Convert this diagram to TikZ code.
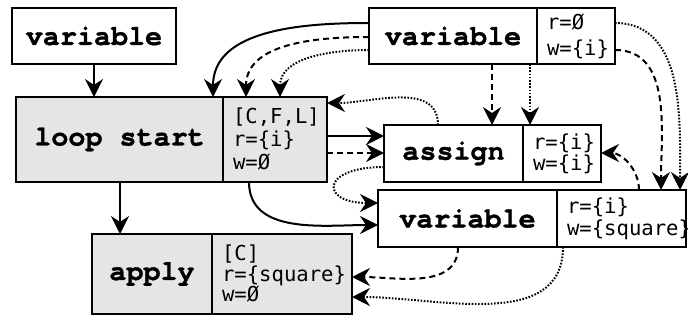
\documentclass[tikz,border=0pt]{standalone}
\usepackage{fontspec}
\usetikzlibrary{arrows.meta,calc}
\newfontfamily\lblfont{TeX Gyre Cursor}[BoldFeatures={FakeBold=1.2}]
\newfontfamily\sidefnt{DejaVu Sans Mono}
\definecolor{boxgray}{gray}{0.9}

\tikzset{
  x=0.5pt, y=-0.5pt,
  every node/.style={line width=1pt, inner sep=0pt, outer sep=0pt},
  mainbox/.style 2 args={draw, anchor=north west, minimum width=#1pt,
    minimum height=#2pt, font={\lblfont\bfseries\fontsize{14.2}{16}\selectfont}},
  sidebox/.style n args={3}{draw, anchor=north west, inner xsep=5pt,
    text width=#1, minimum height=#2pt, align=left,
    font={\sidefnt\fontsize{10.3}{#3}\selectfont}},
  conn/.style={line width=1pt, -{Stealth[length=9pt,width=9pt,inset=3pt]}},
  dsh/.style={conn, dash pattern=on 3pt off 2pt},
  dot/.style={conn, dash pattern=on 0.8pt off 0.8pt},
}

\begin{document}
\begin{tikzpicture}
\useasboundingbox (0,0) rectangle (688,320);

% statement boxes: a main label and a side box with read/write sets
\node[mainbox={82}{28}] (varL) at (12,8) {variable};

\node[mainbox={84}{28}] (varR) at (369,8) {variable};
\node[sidebox={29pt}{28}{13pt}] (varRs) at (varR.north east) {r=Ø\\w=\{i\}};

\node[mainbox={103.5}{42.5}, fill=boxgray] (ls) at (16,97) {loop start};
\node[sidebox={42pt}{42.5}{11.5pt}, fill=boxgray] (lss) at (ls.north east)
  {[C,F,L]\\r=\{i\}\\w=Ø};

\node[mainbox={69.5}{28.5}] (asg) at (384,125) {assign};
\node[sidebox={29pt}{28.5}{9.2pt}] (asgs) at (asg.north east) {r=\{i\}\\w=\{i\}};

\node[mainbox={89.5}{28.5}] (mv) at (378,190) {variable};
\node[sidebox={54.5pt}{28.5}{11pt}] (mvs) at (mv.north east) {r=\{i\}\\w=\{square\}};

\node[mainbox={60}{40}, fill=boxgray] (ap) at (92,234) {apply};
\node[sidebox={60pt}{40}{10.25pt}, fill=boxgray] (aps) at (ap.north east)
  {[C]\\r=\{square\}\\w=Ø};

% control flow (solid)
\draw[conn] (varL.south) -- (varL.south |- ls.north);
\draw[conn] ($(varR.north west)+(0,15)$) to[out=180,in=90] ($(ls.north west)+(197,0)$);
\draw[conn] ($(lss.north east)+(0,39)$) -- ($(asg.north west)+(0,11)$);
\draw[conn] ($(lss.south west)+(26,0)$) to[out=-90,in=180] ($(mv.north west)+(0,35)$);
\draw[conn] ($(ls.south west)+(104,0)$) -- ($(ap.north west)+(28,0)$);

% dashed dependencies
\draw[dsh] ($(varR.north west)+(0,29)$) to[out=180,in=90] ($(ls.north west)+(230,0)$);
\draw[dsh] ($(varR.south west)+(123,0)$) -- ($(asg.north west)+(108,0)$);
\draw[dsh] ($(varRs.north east)+(0,42)$) to[out=0,in=90] ($(mv.north west)+(283,0)$);
\draw[dsh] ($(lss.north east)+(0,56)$) -- ($(asg.north west)+(0,28)$);
\draw[dsh] ($(mv.north west)+(261,0)$) to[out=90,in=0] ($(asgs.north east)+(0,28)$);
\draw[dsh] ($(mv.south west)+(80,0)$) to[out=-90,in=0] ($(aps.north east)+(0,43)$);

% dotted dependencies
\draw[dot] ($(varR.north west)+(0,42)$) to[out=180,in=90] ($(ls.north west)+(264,0)$);
\draw[dot] ($(varR.south west)+(161,0)$) -- ($(asg.north west)+(146,0)$);
\draw[dot] ($(varRs.north east)+(0,15)$) to[out=0,in=90] ($(mv.north west)+(302,0)$);
\draw[dot] ($(asg.north west)+(54,0)$) to[out=90,in=0] ($(lss.north east)+(0,6)$);
\draw[dot] ($(asg.north west)+(0,42)$) .. controls +(-64,0) and +(-58,0) .. ($(mv.north west)+(0,13)$);
\draw[dot] ($(mvs.south west)+(6,0)$) to[out=-90,in=0] ($(aps.north east)+(0,63)$);
\end{tikzpicture}
\end{document}
